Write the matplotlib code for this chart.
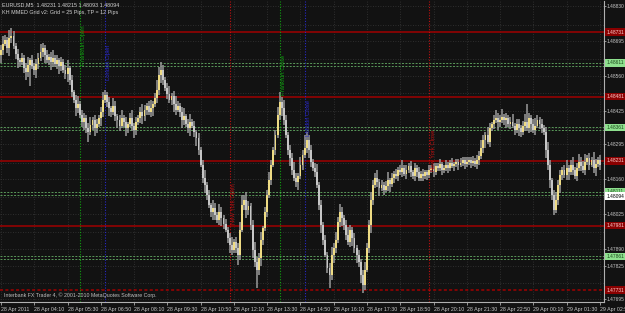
import numpy as np
import matplotlib.pyplot as plt

# EURUSD M5, 28 Apr 2011 02:50 -> 29 Apr 2011 02:50
first_open = 1.48640
closes = [
    1.48661, 1.48685, 1.48700, 1.48669, 1.48708, 1.48716, 1.48677, 1.48646, 1.48622, 1.48615,
    1.48630, 1.48591, 1.48576, 1.48603, 1.48622, 1.48599, 1.48584, 1.48607, 1.48630, 1.48653,
    1.48669, 1.48642, 1.48622, 1.48634, 1.48615, 1.48630, 1.48607, 1.48622, 1.48599, 1.48615,
    1.48584, 1.48568, 1.48591, 1.48545, 1.48498, 1.48467, 1.48436, 1.48452, 1.48409, 1.48382,
    1.48398, 1.48359, 1.48343, 1.48371, 1.48390, 1.48359, 1.48374, 1.48398, 1.48421, 1.48467,
    1.48487, 1.48460, 1.48436, 1.48421, 1.48444, 1.48405, 1.48390, 1.48367, 1.48398, 1.48382,
    1.48359, 1.48374, 1.48398, 1.48367, 1.48351, 1.48382, 1.48398, 1.48421, 1.48405, 1.48429,
    1.48444, 1.48421, 1.48436, 1.48452, 1.48475, 1.48506, 1.48564, 1.48584, 1.48545, 1.48514,
    1.48491, 1.48467, 1.48483, 1.48452, 1.48429, 1.48444, 1.48421, 1.48390, 1.48405, 1.48374,
    1.48359, 1.48382, 1.48367, 1.48343, 1.48320, 1.48274, 1.48216, 1.48165, 1.48138, 1.48099,
    1.48060, 1.48033, 1.48049, 1.48022, 1.48002, 1.48033, 1.48010, 1.47987, 1.47964, 1.47933,
    1.47905, 1.47886, 1.47917, 1.47894, 1.47867, 1.47964, 1.48060, 1.48080, 1.48041, 1.48057,
    1.47983, 1.47886, 1.47840, 1.47809, 1.47855, 1.47925, 1.47971, 1.48033, 1.48099, 1.48157,
    1.48216, 1.48274, 1.48332, 1.48409, 1.48460, 1.48436, 1.48390, 1.48332, 1.48274, 1.48243,
    1.48196, 1.48165, 1.48150, 1.48173, 1.48216, 1.48254, 1.48281, 1.48312, 1.48274, 1.48227,
    1.48204, 1.48188, 1.48138, 1.48060, 1.47983, 1.47925, 1.47867, 1.47816, 1.47789, 1.47867,
    1.47894, 1.47925, 1.47995, 1.48033, 1.48010, 1.47983, 1.47944, 1.47917, 1.47964, 1.47933,
    1.47894, 1.47867, 1.47840, 1.47789, 1.47750, 1.47809, 1.47894, 1.47983, 1.48080, 1.48138,
    1.48165, 1.48150, 1.48126, 1.48138, 1.48119, 1.48134, 1.48157, 1.48142, 1.48165, 1.48181,
    1.48173, 1.48196, 1.48188, 1.48204, 1.48181, 1.48196, 1.48212, 1.48188, 1.48173, 1.48204,
    1.48188, 1.48165, 1.48181, 1.48173, 1.48188, 1.48177, 1.48196, 1.48204, 1.48188, 1.48212,
    1.48204, 1.48219, 1.48196, 1.48204, 1.48216, 1.48204, 1.48223, 1.48212, 1.48219, 1.48227,
    1.48216, 1.48223, 1.48235, 1.48219, 1.48227, 1.48235, 1.48223, 1.48231, 1.48219, 1.48235,
    1.48250, 1.48281, 1.48312, 1.48332, 1.48305, 1.48359, 1.48374, 1.48390, 1.48398, 1.48382,
    1.48390, 1.48402, 1.48390, 1.48398, 1.48374, 1.48382, 1.48367, 1.48351, 1.48374, 1.48359,
    1.48343, 1.48367, 1.48382, 1.48359, 1.48398, 1.48374, 1.48351, 1.48367, 1.48390, 1.48374,
    1.48359, 1.48343, 1.48274, 1.48216, 1.48157, 1.48099, 1.48041, 1.48080, 1.48138, 1.48177,
    1.48196, 1.48177, 1.48204, 1.48188, 1.48216, 1.48196, 1.48173, 1.48204, 1.48227, 1.48212,
    1.48196, 1.48227, 1.48243, 1.48216, 1.48235, 1.48204, 1.48219, 1.48235, 1.48216,
]
# wick lengths beyond the body, in pips
wick_up = [
    2, 3, 2, 1, 3, 3, 2, 1, 2, 1,  2, 1, 2, 3, 1, 2, 1, 2, 2, 3,
    2, 1, 2, 1, 2, 3, 1, 2, 1, 2,  1, 2, 3, 1, 2, 1, 2, 3, 1, 2,
    2, 1, 2, 3, 1, 2, 2, 1, 2, 3,  2, 1, 2, 1, 3, 2, 1, 2, 3, 1,
    2, 1, 2, 3, 1, 2, 1, 2, 3, 2,  1, 2, 3, 1, 2, 4, 3, 3, 2, 1,
    2, 3, 1, 2, 3, 2, 1, 2, 3, 1,  2, 3, 1, 2, 1, 2, 1, 2, 3, 1,
    2, 1, 3, 2, 1, 3, 2, 1, 2, 1,  2, 3, 1, 2, 2, 3, 4, 2, 3, 2,
    1, 2, 3, 2, 2, 3, 1, 2, 2, 3,  2, 1, 2, 3, 4, 2, 3, 2, 1, 2,
    2, 3, 2, 1, 3, 2, 5, 3, 2, 2,  1, 2, 3, 1, 2, 1, 2, 1, 2, 3,
    2, 3, 2, 3, 2, 1, 2, 3, 2, 1,  2, 1, 2, 1, 2, 3, 2, 2, 3, 2,
    2, 3, 1, 2, 1, 2, 3, 1, 2, 1,  2, 1, 2, 3, 1, 2, 1, 2, 1, 2,
    1, 2, 1, 2, 1, 1, 2, 1, 2, 1,  1, 2, 1, 1, 2, 1, 1, 2, 1, 1,
    1, 2, 1, 1, 2, 1, 1, 2, 1, 2,  2, 3, 2, 1, 3, 2, 1, 2, 3, 2,
    2, 3, 1, 2, 1, 2, 3, 1, 2, 2,  1, 2, 3, 7, 2, 1, 2, 3, 2, 1,
    2, 1, 2, 3, 2, 1, 2, 3, 2, 2,  1, 2, 3, 1, 2, 3, 1, 2, 3, 2,
    2, 3, 1, 2, 1, 3, 2, 1, 2,
]
wick_dn = [
    3, 2, 1, 2, 3, 2, 1, 2, 3, 2,  1, 2, 3, 2, 8, 1, 2, 3, 2, 1,
    2, 3, 1, 2, 3, 2, 1, 2, 3, 2,  1, 2, 3, 2, 2, 1, 3, 2, 1, 2,
    3, 2, 4, 1, 2, 3, 2, 1, 3, 2,  1, 2, 3, 2, 1, 2, 3, 2, 1, 2,
    3, 2, 1, 2, 3, 2, 1, 2, 3, 2,  2, 1, 2, 3, 1, 2, 2, 3, 2, 1,
    2, 1, 2, 3, 2, 1, 2, 3, 2, 1,  2, 3, 1, 2, 3, 2, 1, 2, 3, 2,
    1, 2, 3, 2, 1, 2, 3, 2, 1, 2,  3, 2, 1, 2, 4, 2, 1, 2, 3, 2,
    2, 3, 2, 7, 2, 3, 2, 1, 2, 1,  2, 1, 2, 1, 2, 3, 2, 1, 2, 3,
    2, 1, 2, 3, 1, 2, 1, 2, 3, 2,  1, 2, 1, 2, 3, 2, 1, 2, 5, 2,
    3, 2, 1, 2, 3, 2, 2, 1, 2, 3,  2, 3, 2, 3, 3, 2, 1, 2, 3, 2,
    1, 2, 3, 1, 2, 1, 2, 3, 1, 2,  1, 2, 1, 2, 1, 2, 1, 2, 1, 2,
    2, 1, 1, 2, 1, 2, 1, 1, 2, 1,  1, 1, 2, 1, 1, 2, 1, 1, 2, 1,
    2, 1, 1, 2, 1, 1, 2, 1, 1, 2,  2, 1, 2, 3, 1, 2, 1, 2, 1, 3,
    2, 1, 2, 3, 1, 2, 1, 2, 1, 3,  2, 1, 2, 1, 2, 3, 1, 2, 1, 2,
    2, 1, 3, 2, 3, 2, 2, 1, 2, 3,  2, 1, 2, 3, 1, 2, 1, 2, 1, 2,
    1, 2, 1, 2, 1, 2, 3, 1, 2,
]

time_labels = ["28 Apr 2011", "28 Apr 04:10", "28 Apr 05:30", "28 Apr 06:50", "28 Apr 08:10",
               "28 Apr 09:30", "28 Apr 10:50", "28 Apr 12:10", "28 Apr 13:30", "28 Apr 14:50",
               "28 Apr 16:10", "28 Apr 17:30", "28 Apr 18:50", "28 Apr 20:10", "28 Apr 21:30",
               "28 Apr 22:50", "29 Apr 00:10", "29 Apr 01:30", "29 Apr 02:50"]
# labelled price ticks, plus the grid rows hidden behind the level boxes
price_ticks = [1.48830, 1.48695, 1.48560, 1.48425, 1.48295, 1.48160, 1.48025, 1.47890,
               1.47825, 1.47695]
hidden_ticks = [1.48760, 1.48625, 1.48495, 1.48360, 1.48225, 1.48090, 1.47955, 1.47760]

# grid EA levels
grid_center = 1.48231
grid_step = 0.0025
grid_n = [2, 1, 0, -1, -2]
tp_offsets = [0.0012, 0.0013]
last_price = 1.48094

# session lines (bar index) and labels
session_bars = [38, 50, 110, 134, 146, 206]
session_names = ["Frankfurt Open", "London Open", "New York Open",
                 "Frankfurt Close", "London Close", "New York Close"]
session_colors = ["#10a010", "#2828c8", "#c01010", "#10a010", "#2828c8", "#c01010"]
session_text_top = [25, 45, 183, 55, 100, 130]  # pixel rows

pip = 0.0001
closes = np.array(closes)
opens = np.concatenate([[first_open], closes[:-1]])
highs = np.maximum(opens, closes) + np.array(wick_up) * pip
lows = np.minimum(opens, closes) - np.array(wick_dn) * pip
idx = np.arange(len(closes))

plt.rcParams['font.family'] = ['Liberation Sans', 'DejaVu Sans']
W, H = 625, 313
bg = "#121212"
fig = plt.figure(figsize=(W / 100, H / 100), dpi=100, facecolor=bg)
ax = fig.add_axes([0, 11 / H, 604 / W, 301 / H], facecolor=bg)

# price scale: red line at row 161 = 1.48231, 64.5 px per 25 pips
k = grid_step / 64.5
ytop = grid_center + (161 - 1) * k
ybot = grid_center - (302 - 161) * k
ax.set_ylim(ybot, ytop)
ax.set_xlim(-0.5, 290)

def frac(row):
    return 1 - (row - 1) / 301

# dotted chart grid
for p in price_ticks + hidden_ticks:
    ax.axhline(p, color="#383838", ls=(0, (1, 2)), lw=0.6, zorder=1)
for b in range(0, 289, 16):
    ax.axvline(b, color="#383838", ls=(0, (1, 2)), lw=0.6, zorder=1)

# grid levels
levels = [grid_center + n * grid_step for n in grid_n]
for i, lv in enumerate(levels):
    ls = (0, (2, 1.5)) if i == len(levels) - 1 else "-"
    ax.axhline(lv, color="#a00000", lw=1.1, ls=ls, zorder=2)
for lv in levels[1:]:
    for off in tp_offsets:
        ax.axhline(lv + off, color="#5a9a5a", lw=0.7, ls=(0, (2, 1.5)), zorder=2)

# session lines
for b, name, c, top in zip(session_bars, session_names, session_colors, session_text_top):
    ax.axvline(b, color=c, lw=0.8, ls=(0, (1, 1.5)), zorder=2)
    ax.text(b + 0.6, frac(top), name, transform=ax.get_xaxis_transform(), rotation=90,
            ha="left", va="top", color=c, fontsize=4.2, zorder=4)

# candles
up = closes >= opens
ax.vlines(idx, lows, highs, color="#9a9a9a", lw=1.1, zorder=3)
body_h = np.maximum(np.abs(closes - opens), 0.00002)
ax.bar(idx[up], body_h[up], bottom=opens[up], width=0.9, color="#eedb84", lw=0, zorder=3)
ax.bar(idx[~up], body_h[~up], bottom=closes[~up], width=0.9, color="#c6c6c6", lw=0, zorder=3)

# axes styling
for s in ["top", "left"]:
    ax.spines[s].set_visible(False)
ax.spines["right"].set_color("#b0b0b0")
ax.spines["bottom"].set_color("#b0b0b0")
ax.yaxis.tick_right()
ax.set_yticks(price_ticks)
ax.set_yticklabels([f"{p:.5f}" for p in price_ticks])
ax.tick_params(axis="y", colors="#c8c8c8", labelsize=3.5, length=1.5, pad=0.6, width=0.5)
ax.set_xticks(np.arange(0, 289, 16))
ax.set_xticklabels(time_labels, ha="left")
ax.tick_params(axis="x", colors="#c8c8c8", labelsize=3.8, length=2, pad=1.5, width=0.5)

# level boxes on the price axis
def box(price, text, fc, tc):
    ax.text(1.004, price, text, transform=ax.get_yaxis_transform(), ha="left", va="center",
            fontsize=3.5, color=tc, zorder=6, clip_on=False,
            bbox=dict(boxstyle="square,pad=0.3", fc=fc, ec="none"))

for lv in levels:
    box(lv, f"{lv:.5f}", "#8a0000", "#ffd0d0")
for lv in levels[1:]:
    box(lv + tp_offsets[1], f"{lv + tp_offsets[1]:.5f}", "#8ee08e", "#1a4a1a")
box(last_price, f"{last_price:.5f}", "#ffffff", "#000000")

# header and footer text
ax.text(0.004, frac(2), "EURUSD,M5  1.48231 1.48215 1.48093 1.48094", transform=ax.transAxes,
        ha="left", va="top", color="#d0d0d0", fontsize=3.9, zorder=6)
ax.text(0.004, frac(10), "KH MMED Grid v2: Grid = 25 Pips, TP = 12 Pips", transform=ax.transAxes,
        ha="left", va="top", color="#d0d0d0", fontsize=3.9, zorder=6)
ax.text(0.006, frac(298), "Interbank FX Trader 4, \u00a9 2001-2010 MetaQuotes Software Corp.",
        transform=ax.transAxes, ha="left", va="bottom", color="#c0c0c0", fontsize=3.8,
        zorder=6)

fig.savefig("out.png", dpi=100, facecolor=bg)
